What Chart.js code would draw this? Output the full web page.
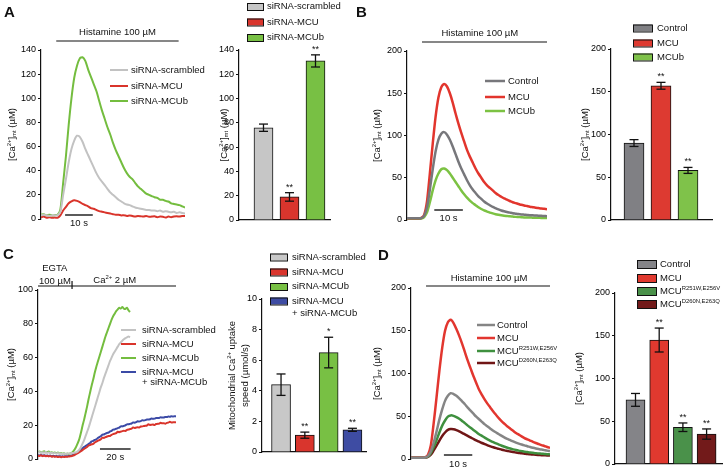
<!DOCTYPE html>
<html>
<head>
<meta charset="utf-8">
<title>MCU / MCUb mitochondrial Ca2+</title>
<script src="https://cdn.jsdelivr.net/npm/chart.js@4.4.1/dist/chart.umd.min.js"></script>
<style>
  html, body { margin: 0; padding: 0; background: #fff; }
  #fig { position: relative; width: 727px; height: 467px; overflow: hidden; font-family: "Liberation Sans", Arial, sans-serif; }
  #fig canvas { position: absolute; }
  .panel { position: absolute; font-weight: bold; font-size: 15px; line-height: 15px; color: #111; }
</style>
</head>
<body>
<div id="fig">
  <canvas id="aLine"></canvas>
  <canvas id="aBar"></canvas>
  <canvas id="bLine"></canvas>
  <canvas id="bBar"></canvas>
  <canvas id="cLine"></canvas>
  <canvas id="cBar"></canvas>
  <canvas id="dLine"></canvas>
  <canvas id="dBar"></canvas>
  <div class="panel" style="left:4px;top:4px">A</div>
  <div class="panel" style="left:356px;top:4px">B</div>
  <div class="panel" style="left:3px;top:246px">C</div>
  <div class="panel" style="left:378px;top:247px">D</div>
</div>
<script>
// ---------- data ----------
// A: histamine traces, 1 s steps
const timeA = [0,1,2,3,4,5,6,7,8,9,10,11,12,13,14,15,16,17,18,19,20,21,22,23,24,25,26,27,28,29,30,31,32,33,34,35,36,37,38,39,40,41,42,43,44,45,46,47,48,49,50,51,52];
const namesA = ['siRNA-scrambled', 'siRNA-MCU', 'siRNA-MCUb'];
const scrambledA = [3,3.5,3,2.5,3,3,3.2,6,20,33,47,58,65,69,68,64,58,53,48,43,38,34,31,28,25,22,20,18,16,14.5,13,12,11.5,10.5,9.5,9,8.5,8,7.5,7.5,7,7,6.5,7,6,6.5,6,5.5,6,5,5.5,5,4.5];
const mcuA = [1.5,2,1,1.5,1,1.2,1,3,7,10,13,14.5,15.5,15,14,12.5,11.5,10.5,9,8.5,7.5,6.5,6,5.5,5,4.5,4,3.5,3.5,3,3.2,2.5,3,2.5,2,2.5,2.3,2,2.5,1.8,2,2.2,1.5,2,1.8,1.2,2,1.5,2,2.3,2,2.5,2.5];
const mcubA = [3.5,4,3,3.5,3,3.2,3.5,8,30,52,78,100,117,127,133,134,131,124,118,112,106,98,90,83,76,70,63,57,52,47,42,38,35,33,30,27,25,23,21,20,19,18,17.5,16,16,15,14.5,13,12.5,12,11.5,10.5,9.5];
const barMeanA = [76, 19, 131];
const barErrA = [3, 3.5, 5];
const starsA = ['', '**', '**'];

// B: overexpression traces, 1 s steps
const timeB = [0,1,2,3,4,5,6,7,8,9,10,11,12,13,14,15,16,17,18,19,20,21,22,23,24,25,26,27,28,29,30,31,32,33,34,35,36,37,38,39,40,41,42,43,44,45,46,47,48,49];
const namesB = ['Control', 'MCU', 'MCUb'];
const controlB = [2,2,2,2,2,2.3,5,15,36,60,81,95,102,104,101,95,87,78,69,61,54,47,41,36,32,28,25,22,19.5,17.5,15.5,14,12.5,11.3,10.3,9.4,8.7,8,7.5,7,6.6,6.3,6,5.7,5.5,5.3,5.1,4.9,4.7,4.5];
const mcuB = [2,2,2,2,2,2.5,6,22,55,90,122,145,157,161,158,150,139,126,114,103,93,83,75,68,61,55,50,45,41,38,35,32,29.5,27.5,25.5,24,22.5,21,20,19,18,17.2,16.5,15.8,15.2,14.6,14.1,13.6,13.2,12.8];
const mcubB = [1.5,1.5,1.5,1.5,1.5,1.8,3.5,9,21,35,47,55,60,61,59,55,50,45,40,35,30.5,26.5,23,20,17.5,15,13,11.3,10,8.8,7.8,6.9,6.2,5.6,5.1,4.7,4.3,4,3.7,3.5,3.3,3.1,3,2.9,2.8,2.7,2.6,2.5,2.5,2.4];
const barMeanB = [90, 157, 58];
const barErrB = [4, 4, 3.5];
const starsB = ['', '**', '**'];

// C: Ca2+ re-addition in permeabilised cells, 1 s steps
const timeC = [0,1,2,3,4,5,6,7,8,9,10,11,12,13,14,15,16,17,18,19,20,21,22,23,24,25,26,27,28,29,30,31,32,33,34,35,36,37,38,39,40,41,42,43,44,45,46,47,48,49,50,51,52,53,54,55,56,57,58,59,60,61,62,63,64,65,66,67,68,69,70,71,72,73,74,75,76,77,78,79,80,81,82,83,84,85,86,87,88,89,90];
const namesC = ['siRNA-scrambled', 'siRNA-MCU', 'siRNA-MCUb', 'siRNA-MCU'];
const scrambledC = [3.8,4.2,3.5,4,3.7,4.1,3.6,3.9,3.4,3.7,3.3,3.6,3.2,3.5,3,3.3,2.9,3.2,3,3.1,3.2,3.4,3.5,
  3.6,3.8,4,4.5,5.5,7,9,11,13.5,16,18.5,21.5,24.5,27.5,30.5,33.5,36.5,39.5,42.5,45,48,50.5,53,55.5,58,60,62,63.5,65,66.5,68,69,70,70.8,71.5,72,72.5,72];
const mcuC = [2,1.8,2.2,1.7,2,1.6,1.9,1.5,1.8,1.4,1.6,1.3,1.5,1.2,1.4,1.1,1.3,1.2,1.4,1.3,1.5,1.6,1.8,
  2.1,2.5,3,3.5,4.1,4.7,5.3,5.9,6.5,7.1,8,8.2,8.7,8.9,9.8,10.3,10.8,11.2,11.7,12.6,12.5,12.9,13.3,13.6,13.6,14.3,14.7,15,15.3,16.1,
  15.9,16.2,16.5,16.7,16.6,17.2,17.5,17.7,17.9,18.7,18.4,18.6,18.8,18.6,19.2,19.3,19.5,19.7,19.8,20.5,20.1,20.3,20.4,20.1,20.7,20.8,20.9,21.5,21.1,21.2,20.9,21.4,21.5,22,21.6,21.7,21.7,21.8];
const mcubC = [4,4.5,3.8,4.2,4.6,3.9,4.1,4.4,3.7,4,3.6,3.9,3.4,3.8,3.2,3.5,3.1,3.4,2.9,3.2,3,3.3,3.6,
  4.5,5.8,7.5,9.5,12,15.5,19.5,23,27,31,35.5,39.5,43.5,47,51,54.5,57.5,60.5,63.5,66.5,69.5,72.5,75,77.5,80,82.5,84.5,86,87.5,88.5,89.5,89,90,89,88.8,89.5,88,87];
const bothC = [2.3,2.1,2.4,2,2.2,1.9,2.1,1.8,2,1.7,1.9,1.6,1.8,1.5,1.7,1.5,1.6,1.5,1.7,1.6,1.8,1.9,2.1,
  2.5,3,3.6,4.2,4.9,5.6,6.3,7,7.6,8.3,8.9,9.5,10.4,10.7,11.3,11.6,12.4,13,13.5,14.4,14.5,15,15.4,15.6,16.3,16.7,17.4,17.5,17.9,18.3,
  18.6,19.3,19.3,19.6,19.9,20.5,20.5,20.8,21,21.6,21.5,21.8,22.3,22.2,22.4,22.9,22.8,23,23.4,23.3,23.5,23.9,23.8,23.9,24.3,24.2,24.3,24.7,24.5,24.6,24.9,24.8,25.2,25,25.3,25.1,25.3,25.2];
const barMeanC = [4.4, 1.1, 6.5, 1.45];
const barErrC = [0.7, 0.2, 1.0, 0.1];
const starsC = ['', '**', '*', '**'];

// D: MCU pore mutants, 1 s steps
const timeD = [0,1,2,3,4,5,6,7,8,9,10,11,12,13,14,15,16,17,18,19,20,21,22,23,24,25,26,27,28,29,30,31,32,33,34,35,36,37,38,39,40,41,42,43,44,45,46,47,48,49];
const namesD = ['Control', 'MCU', 'MCU^{R251W,E256V}', 'MCU^{D260N,E263Q}'];
const controlD = [1.5,1.5,1.5,1.5,1.5,1.8,3.5,9,19,32,46,58,68,74,77,76,74,71,67.5,64,60,56.5,53,49.5,46.5,43.5,40.5,38,35.5,33,31,29,27,25,23.5,22,20.5,19.2,18,16.9,15.9,15,14,13.1,12.3,11.6,11,10.4,9.8,9.3];
const mcuD = [1.5,1.5,1.5,1.5,1.5,2,5,16,42,72,103,130,150,160,163,159,152,144,135,125,115,106,97,89,81,75,69.5,64.5,60,55.5,51.5,47.5,44,41,38,35.5,33,30.5,28.5,26.5,24.5,23,21.5,20,18.7,17.5,16.3,15.2,14,13];
const r251wD = [1.5,1.5,1.5,1.5,1.5,1.6,3,7,14,22,31,39,45,49.5,51,50.5,49,47,44.5,42,39,36.5,34,31.5,29,27,25,23,21.3,19.7,18.2,16.8,15.5,14.3,13.2,12.2,11.3,10.5,9.8,9.2,8.6,8.1,7.6,7.2,6.8,6.5,6.2,5.9,5.6,5.4];
const d260nD = [1.5,1.5,1.5,1.5,1.5,1.6,2.5,5,10,15.5,21.5,27,31,34,35,34.7,33.7,32.3,30.6,28.8,27,25.2,23.5,21.8,20.2,18.7,17.3,16,14.8,13.7,12.7,11.8,10.9,10.1,9.4,8.7,8.1,7.6,7.1,6.6,6.2,5.8,5.5,5.2,4.9,4.7,4.5,4.3,4.1,4];
const barMeanD = [75, 145, 43, 35];
const barErrD = [7.5, 14, 5, 6];
const starsD = ['', '**', '**', '**'];

const caTitle = '[Ca^{2+}]_{mt} (µM)';

// ---------- drawing helpers ----------
const FONT = '"Liberation Sans", Arial, sans-serif';
const INK = '#111';

// tiny markup: ^{..} superscript, _{..} subscript
function parseRich(str) {
    const parts = [];
    const re = /([\^_])\{([^}]*)\}/g;
    let last = 0, m;
    while ((m = re.exec(str))) {
        if (m.index > last) parts.push([str.slice(last, m.index), '']);
        parts.push([m[2], m[1] === '^' ? 'sup' : 'sub']);
        last = re.lastIndex;
    }
    if (last < str.length) parts.push([str.slice(last), '']);
    return parts;
}

function drawRich(ctx, str, x, y, size, align) {
    const segs = parseRich(str).map(([t, mode]) => ({ t, mode, s: mode ? size * 0.62 : size }));
    let total = 0;
    segs.forEach(g => {
        ctx.font = `${g.s}px ${FONT}`;
        g.w = ctx.measureText(g.t).width;
        total += g.w;
    });
    let cx = align === 'center' ? x - total / 2 : x;
    ctx.textAlign = 'left';
    ctx.textBaseline = 'middle';
    segs.forEach(g => {
        ctx.font = `${g.s}px ${FONT}`;
        const dy = g.mode === 'sup' ? -size * 0.32 : g.mode === 'sub' ? size * 0.3 : 0;
        ctx.fillText(g.t, cx, y + dy);
        cx += g.w;
    });
}

function seg(ctx, x1, y1, x2, y2) {
    ctx.beginPath();
    ctx.moveTo(x1, y1);
    ctx.lineTo(x2, y2);
    ctx.stroke();
}

// annotations drawn after the chart: stimulus bar, time scale bar, legend, y title, error bars
function decor(cfg) {
    const ox = cfg.box[0], oy = cfg.box[1];
    return {
        id: 'decor',
        afterDraw(chart) {
            const { ctx, chartArea: area } = chart;
            const xs = chart.scales.x, ys = chart.scales.y;
            ctx.save();
            ctx.fillStyle = INK;
            ctx.strokeStyle = INK;

            if (cfg.stim) {
                const s = cfg.stim;
                const y = area.top - s.above;
                ctx.lineWidth = 1.2;
                seg(ctx, xs.getPixelForValue(s.from), y, xs.getPixelForValue(s.to), y);
                if (s.tick != null) {
                    const tx = xs.getPixelForValue(s.tick);
                    seg(ctx, tx, y - 5, tx, y + 3);
                }
                s.labels.forEach(l => drawRich(ctx, l.text, xs.getPixelForValue(l.at), y - l.up, 9.5, 'center'));
            }

            if (cfg.scaleBar) {
                const b = cfg.scaleBar;
                const y = area.bottom - b.above;
                const x1 = xs.getPixelForValue(b.from);
                const x2 = xs.getPixelForValue(b.from + b.len);
                ctx.strokeStyle = '#333';
                ctx.lineWidth = 1.6;
                seg(ctx, x1, y, x2, y);
                drawRich(ctx, b.len + ' s', (x1 + x2) / 2, y + b.textDy, 9.5, 'center');
            }

            if (cfg.errors) {
                const meta = chart.getDatasetMeta(0);
                ctx.strokeStyle = INK;
                ctx.lineWidth = 1.3;
                cfg.values.forEach((v, i) => {
                    const bx = meta.data[i].x;
                    const top = ys.getPixelForValue(v + cfg.errors[i]);
                    const bot = ys.getPixelForValue(v - cfg.errors[i]);
                    seg(ctx, bx, top, bx, bot);
                    seg(ctx, bx - 4.5, top, bx + 4.5, top);
                    seg(ctx, bx - 4.5, bot, bx + 4.5, bot);
                    if (cfg.stars[i]) {
                        ctx.font = `9px ${FONT}`;
                        ctx.textAlign = 'center';
                        ctx.textBaseline = 'alphabetic';
                        ctx.fillText(cfg.stars[i], bx, top - 3);
                    }
                });
            }

            if (cfg.legend) {
                const L = cfg.legend;
                cfg.names.forEach((name, i) => {
                    const y = L.ys[i] - oy;
                    if (L.kind === 'line') {
                        ctx.strokeStyle = cfg.colors[i];
                        ctx.lineWidth = cfg.lw;
                        seg(ctx, L.x1 - ox, y, L.x2 - ox, y);
                    } else {
                        ctx.fillStyle = cfg.colors[i];
                        ctx.fillRect(L.x1 - ox, y - L.h / 2, L.w, L.h);
                        ctx.strokeStyle = INK;
                        ctx.lineWidth = 1;
                        ctx.strokeRect(L.x1 - ox + 0.5, y - L.h / 2 + 0.5, L.w, L.h);
                    }
                    ctx.fillStyle = INK;
                    drawRich(ctx, name, L.tx - ox, y, 9.5, 'left');
                });
                if (L.extra) drawRich(ctx, L.extra.text, L.tx - ox, L.extra.y - oy, 9.5, 'left');
            }

            ctx.fillStyle = INK;
            (cfg.yTitle || []).forEach(t => {
                ctx.save();
                ctx.translate(t.x - ox, (area.top + area.bottom) / 2);
                ctx.rotate(-Math.PI / 2);
                drawRich(ctx, t.text, 0, 0, 9.5, 'center');
                ctx.restore();
            });
            ctx.restore();
        }
    };
}

function place(id, box) {
    const el = document.getElementById(id);
    el.width = box[2];
    el.height = box[3];
    el.style.left = box[0] + 'px';
    el.style.top = box[1] + 'px';
    return el;
}

function axisY(cfg) {
    return {
        min: 0,
        max: cfg.yMax,
        ticks: { stepSize: cfg.yStep, color: '#000', padding: 2, font: { family: FONT, size: 9 } },
        grid: { display: true, drawOnChartArea: false, drawTicks: true, tickLength: 3, color: INK },
        border: { display: true, color: INK, width: 1.2 },
        afterFit: s => { s.width = cfg.axisW; }
    };
}

function lineChart(id, cfg) {
    return new Chart(place(id, cfg.box), {
        type: 'line',
        data: {
            datasets: cfg.series.map((vals, k) => ({
                label: cfg.names[k],
                data: vals.map((v, i) => ({ x: cfg.time[i], y: v })),
                borderColor: cfg.colors[k],
                borderWidth: cfg.lw,
                pointRadius: 0,
                tension: 0.25,
                fill: false
            }))
        },
        options: {
            responsive: false,
            animation: false,
            events: [],
            layout: { padding: cfg.pad },
            plugins: { legend: { display: false }, tooltip: { enabled: false } },
            scales: {
                x: { type: 'linear', display: false, min: cfg.xMin, max: cfg.xMax },
                y: axisY(cfg)
            }
        },
        plugins: [decor(cfg)]
    });
}

function barChart(id, cfg) {
    return new Chart(place(id, cfg.box), {
        type: 'bar',
        data: {
            datasets: [{
                data: cfg.values.map((v, i) => ({ x: i + 1, y: v })),
                backgroundColor: cfg.colors,
                borderColor: INK,
                borderWidth: 1,
                barThickness: cfg.barW,
                borderSkipped: 'bottom'
            }]
        },
        options: {
            responsive: false,
            animation: false,
            events: [],
            layout: { padding: cfg.pad },
            plugins: { legend: { display: false }, tooltip: { enabled: false } },
            scales: {
                x: {
                    type: 'linear', min: cfg.xMin, max: cfg.xMax, offset: false,
                    ticks: { display: false },
                    grid: { display: false, offset: false },
                    border: { display: true, color: INK, width: 1.2 },
                    afterFit: s => { s.height = 0; }
                },
                y: axisY(cfg)
            }
        },
        plugins: [decor(cfg)]
    });
}

// ---------- panels ----------
// A
lineChart('aLine', {
    box: [0, 0, 215, 235], axisW: 41, pad: { left: 0, right: 30, top: 50, bottom: 16 },
    time: timeA, xMin: 0, xMax: 52, yMax: 140, yStep: 20, lw: 2,
    series: [scrambledA, mcuA, mcubA], names: namesA,
    colors: ['#c2c2c2', '#d9342b', '#74bd3f'],
    stim: { from: 5.5, to: 49.7, above: 9, labels: [{ text: 'Histamine 100 µM', at: 27.6, up: 9 }] },
    scaleBar: { from: 8.7, len: 10, above: 4, textDy: 8 },
    legend: { kind: 'line', x1: 110, x2: 128, tx: 131, ys: [70, 86, 101] },
    yTitle: [{ x: 12, text: caTitle }]
});
barChart('aBar', {
    box: [190, 0, 155, 235], axisW: 49, pad: { left: 0, right: 15, top: 50, bottom: 15 },
    xMin: 0.058, xMax: 3.558, barW: 19, yMax: 140, yStep: 20,
    values: barMeanA, errors: barErrA, stars: starsA, names: namesA,
    colors: ['#c6c6c6', '#d9352d', '#78c044'],
    legend: { kind: 'box', x1: 247, w: 16, h: 7, tx: 267, ys: [6.5, 22, 37.5] },
    yTitle: [{ x: 224, text: caTitle }]
});

// B
lineChart('bLine', {
    box: [365, 0, 190, 235], axisW: 42, pad: { left: 0, right: 8, top: 51, bottom: 15 },
    time: timeB, xMin: 0, xMax: 49, yMax: 200, yStep: 50, lw: 2.5,
    series: [controlB, mcuB, mcubB], names: namesB,
    colors: ['#77777b', '#e2352d', '#7cc243'],
    stim: { from: 5.25, to: 49, above: 9, labels: [{ text: 'Histamine 100 µM', at: 25.5, up: 9 }] },
    scaleBar: { from: 9.55, len: 10, above: 10, textDy: 8 },
    legend: { kind: 'line', x1: 485, x2: 505, tx: 508, ys: [81, 97, 111] },
    yTitle: [{ x: 377, text: caTitle }]
});
barChart('bBar', {
    box: [550, 0, 177, 235], axisW: 61, pad: { left: 0, right: 15, top: 49, bottom: 15 },
    xMin: 0.148, xMax: 3.889, barW: 20, yMax: 200, yStep: 50,
    values: barMeanB, errors: barErrB, stars: starsB, names: namesB,
    colors: ['#808084', '#dd3a31', '#7fc24a'],
    legend: { kind: 'box', x1: 633, w: 19, h: 7, tx: 657, ys: [28, 43, 57] },
    yTitle: [{ x: 585, text: caTitle }]
});

// C
lineChart('cLine', {
    box: [0, 235, 222, 232], axisW: 38, pad: { left: 0, right: 46, top: 55, bottom: 8 },
    time: timeC, xMin: 0, xMax: 90, yMax: 100, yStep: 20, lw: 2,
    series: [scrambledC, mcuC, mcubC, bothC], names: namesC,
    colors: ['#c3c3c3', '#d9342b', '#74bd3f', '#3b4aa6'],
    stim: {
        from: 0, to: 90, above: 4, tick: 22.2,
        labels: [
            { text: 'EGTA', at: 11, up: 18 },
            { text: '100 µM', at: 11, up: 5 },
            { text: 'Ca^{2+} 2 µM', at: 50, up: 6 }
        ]
    },
    scaleBar: { from: 40.4, len: 20, above: 10, textDy: 8 },
    legend: { kind: 'line', x1: 121, x2: 136, tx: 142, ys: [330, 344, 358, 372], extra: { text: '+ siRNA-MCUb', y: 382 } },
    yTitle: [{ x: 11, text: caTitle }]
});
barChart('cBar', {
    box: [190, 235, 180, 232], axisW: 72, pad: { left: 0, right: 4, top: 64, bottom: 15 },
    xMin: 0.2, xMax: 4.57, barW: 19, yMax: 10, yStep: 2,
    values: barMeanC, errors: barErrC, stars: starsC, names: namesC,
    colors: ['#c8c8c8', '#d9352d', '#78c044', '#3e4ca3'],
    legend: { kind: 'box', x1: 270, w: 17, h: 7, tx: 292, ys: [257, 272, 286.5, 301], extra: { text: '+ siRNA-MCUb', y: 313 } },
    yTitle: [{ x: 232, text: 'Mitochondrial Ca^{2+} uptake' }, { x: 245, text: 'speed (µmol/s)' }]
});

// D
lineChart('dLine', {
    box: [365, 235, 195, 232], axisW: 46, pad: { left: 0, right: 10, top: 53, bottom: 8 },
    time: timeD, xMin: 0, xMax: 49, yMax: 200, yStep: 50, lw: 2.5,
    series: [controlD, mcuD, r251wD, d260nD], names: namesD,
    colors: ['#858585', '#e2362f', '#3f903f', '#701616'],
    stim: { from: 5.3, to: 49, above: 2, labels: [{ text: 'Histamine 100 µM', at: 27.5, up: 8 }] },
    scaleBar: { from: 11.6, len: 10, above: 4, textDy: 9 },
    legend: { kind: 'line', x1: 477, x2: 495, tx: 497, ys: [325, 338, 351, 363] },
    yTitle: [{ x: 377, text: caTitle }]
});
barChart('dBar', {
    box: [550, 235, 177, 240], axisW: 65, pad: { left: 0, right: 5, top: 58, bottom: 11 },
    xMin: 0.135, xMax: 4.65, barW: 19, yMax: 200, yStep: 50,
    values: barMeanD, errors: barErrD, stars: starsD, names: namesD,
    colors: ['#848488', '#e0392f', '#4a914a', '#721a1a'],
    legend: { kind: 'box', x1: 637, w: 19, h: 8, tx: 660, ys: [264, 278, 291, 304] },
    yTitle: [{ x: 579, text: caTitle }]
});
</script>
</body>
</html>
